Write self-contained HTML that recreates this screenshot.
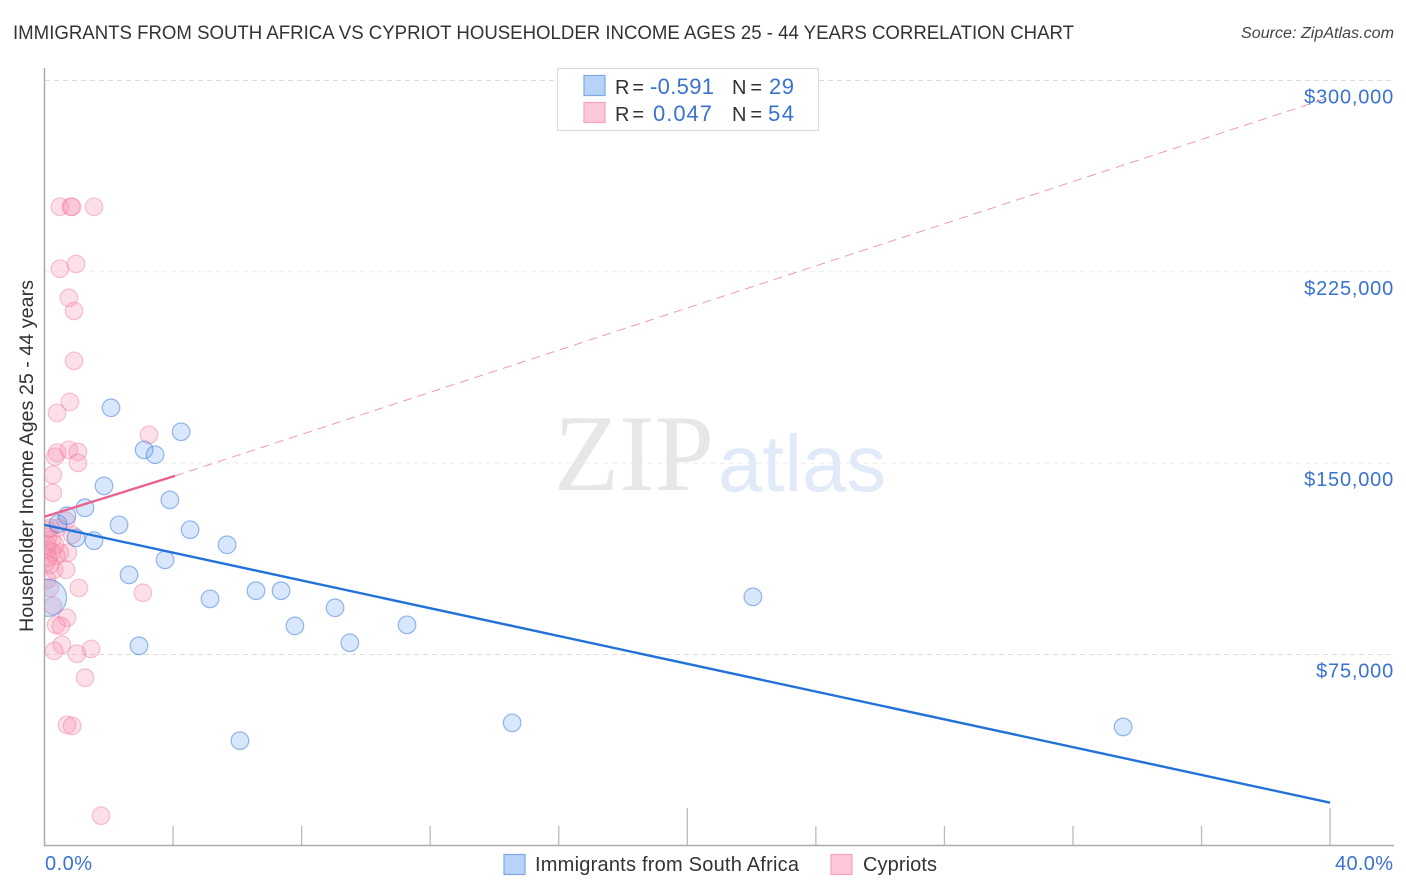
<!DOCTYPE html>
<html lang="en">
<head>
<meta charset="utf-8">
<title>Immigrants from South Africa vs Cypriot Householder Income Correlation Chart</title>
<style>
html,body{margin:0;padding:0;background:#fff;width:1406px;height:892px;overflow:hidden}
svg{display:block;font-family:"Liberation Sans",sans-serif}
</style>
</head>
<body>
<svg id="chart" width="1406" height="892" viewBox="0 0 1406 892" xmlns="http://www.w3.org/2000/svg">
  <defs><clipPath id="plot-clip"><rect x="45" y="60" width="1349" height="786"/></clipPath></defs>
  <text x="13" y="39" font-size="19" fill="#333" textLength="1061" lengthAdjust="spacingAndGlyphs">IMMIGRANTS FROM SOUTH AFRICA VS CYPRIOT HOUSEHOLDER INCOME AGES 25 - 44 YEARS CORRELATION CHART</text>
  <text x="1241" y="38" font-size="15.5" font-style="italic" fill="#444" textLength="153" lengthAdjust="spacingAndGlyphs">Source: ZipAtlas.com</text>
  <g>
    <text x="554" y="490" font-family="'Liberation Serif',serif" font-size="109" fill="#e7e7e7" textLength="160" lengthAdjust="spacingAndGlyphs">ZIP</text>
    <text x="718" y="491" font-size="80" fill="#e0eaf8" textLength="168" lengthAdjust="spacingAndGlyphs">atlas</text>
  </g>
  <g id="grid"></g>
  <g id="axes"></g>
  <g id="ylabels"></g>
  <g id="xlabels"></g>
  <text transform="translate(33,456) rotate(-90)" font-size="19" fill="#333" text-anchor="middle" textLength="352" lengthAdjust="spacingAndGlyphs">Householder Income Ages 25 - 44 years</text>
  <g id="marks" clip-path="url(#plot-clip)"></g>
  <g id="trends"></g>
  <g>
    <rect x="557.5" y="68.5" width="261" height="62" fill="#fff" stroke="#dcdcdc" stroke-width="1.2"/>
    <rect x="584" y="75.5" width="21" height="20" fill="#b8d3f8" stroke="#7ea8e2" stroke-width="1.2"/>
    <rect x="584" y="102.5" width="21" height="20" fill="#fcc8d8" stroke="#f3a3bc" stroke-width="1.2"/>
    <text x="615" y="94" font-size="20" fill="#333" textLength="29">R =</text>
    <text x="650" y="94" font-size="22" fill="#3a72d0" textLength="64">-0.591</text>
    <text x="732" y="94" font-size="20" fill="#333" textLength="30">N =</text>
    <text x="769" y="94" font-size="22" fill="#3a72d0" textLength="25">29</text>
    <text x="615" y="121" font-size="20" fill="#333" textLength="29">R =</text>
    <text x="653" y="121" font-size="22" fill="#3a72d0" textLength="59">0.047</text>
    <text x="732" y="121" font-size="20" fill="#333" textLength="30">N =</text>
    <text x="768" y="121" font-size="22" fill="#3a72d0" textLength="26">54</text>
  </g>
  <g>
    <rect x="504" y="854.5" width="21" height="20" fill="#b8d3f8" stroke="#7ea8e2" stroke-width="1.2"/>
    <text x="535" y="871" font-size="20" fill="#333" textLength="264">Immigrants from South Africa</text>
    <rect x="831" y="854.5" width="21" height="20" fill="#fcc8d8" stroke="#f3a3bc" stroke-width="1.2"/>
    <text x="863" y="871" font-size="20" fill="#333" textLength="74">Cypriots</text>
  </g>
</svg>
<script>
var yTickValues = [300000, 225000, 150000, 75000];
var yTickLabels = ["$300,000", "$225,000", "$150,000", "$75,000"];
var xTickValues = [4, 8, 12, 16, 20, 24, 28, 32, 36, 40];
var xMajorTicks = [20, 40];
var xEndLabels = ["0.0%", "40.0%"];

var immigrantsX = [2.07, 4.25, 3.10, 3.44, 1.85, 3.90, 1.26, 0.70, 0.42, 2.32, 4.53, 0.98, 1.54, 5.68, 3.75, 2.63, 6.58, 7.36, 5.15, 22.04, 9.04, 7.79, 11.28, 2.94, 9.50, 14.55, 33.56, 6.08, 0.11];
var immigrantsY = [171700, 162300, 155200, 153300, 141100, 135600, 132500, 129400, 126200, 125800, 123900, 120700, 119600, 118000, 112100, 106200, 100000, 100000, 96800, 97600, 93300, 86200, 86600, 78400, 79600, 48200, 46600, 41200, 97200];
var immigrantsWeight = [1, 1, 1, 1, 1, 1, 1, 1, 1, 1, 1, 1, 1, 1, 1, 1, 1, 1, 1, 1, 1, 1, 1, 1, 1, 1, 1, 1, 2.1];

var cypriotsX = [0.48, 0.82, 0.86, 1.54, 0.48, 0.98, 0.76, 0.92, 0.92, 0.79, 0.39, 3.25, 0.39, 0.33, 0.76, 1.04, 1.04, 0.26, 0.26, 0.67, 0.42, 0.08, 0.86, 0.23, 0.11, 0.73, 0.48, 0.23, 0.08, 0.36, 0.05, 0.30, 0.67, 0.08, 0.17, 1.07, 3.06, 0.26, 0.70, 0.36, 0.51, 0.54, 0.30, 1.01, 1.45, 1.26, 0.70, 0.86, 1.76, 0.17, 0.08, 0.33, 0.11, 0.17];
var cypriotsY = [250500, 250500, 250500, 250500, 226200, 228100, 214800, 209700, 190100, 174000, 169700, 161100, 154100, 152500, 155200, 154400, 150100, 145400, 138400, 127400, 124700, 123900, 121900, 120000, 121100, 114900, 114900, 115200, 116000, 113700, 110900, 108200, 108200, 104300, 101100, 101100, 99200, 94100, 89400, 86600, 86200, 78800, 76400, 75300, 77200, 65900, 47400, 47000, 11800, 124700, 118000, 118000, 112900, 110100];

var immigrantsTrendX = [0, 40];
var immigrantsTrendY = [125800, 16900];
var cypriotsTrendX = [0, 4.06];
var cypriotsTrendY = [129000, 145000];
var cypriotsProjectionX = [4.06, 40];
var cypriotsProjectionY = [145000, 293400];

var NS = "http://www.w3.org/2000/svg";
function sx(v) { return 44.5 + v * 32.14; }
function sy(v) { return 845.8 - v * (191.33 / 75000); }
function make(tag, parent, attrs) {
  var el = document.createElementNS(NS, tag);
  for (var k in attrs) el.setAttribute(k, attrs[k]);
  parent.appendChild(el);
  return el;
}

var gridG = document.getElementById("grid");
var axesG = document.getElementById("axes");
var yLabG = document.getElementById("ylabels");
var xLabG = document.getElementById("xlabels");
var marksG = document.getElementById("marks");
var trendsG = document.getElementById("trends");

yTickValues.forEach(function (v, i) {
  var line = make("line", gridG, {x1: 45, x2: 1394, y1: sy(v), y2: sy(v), stroke: i % 3 === 0 ? "#dcdcdc" : "#ececec", "stroke-width": 1, "stroke-dasharray": "5 4"});
  
  
  var t = make("text", yLabG, {x: 1394, y: sy(v) + 23, "font-size": 20, fill: "#3a72d0", "text-anchor": "end", "letter-spacing": "0.8"});
  t.textContent = yTickLabels[i];
  
  
});

var yAxis = make("line", axesG, {x1: 44.5, x2: 44.5, y1: 68, y2: 846, stroke: "#aaa", "stroke-width": 1.5});


var xAxis = make("line", axesG, {x1: 44, x2: 1394, y1: 845.5, y2: 845.5, stroke: "#aaa", "stroke-width": 1.5});



xTickValues.forEach(function (v) {
  var major = xMajorTicks.indexOf(v) >= 0;
  var tick = make("line", axesG, {x1: sx(v), x2: sx(v), y1: major ? 808 : 826, y2: 845, stroke: "#bbb", "stroke-width": 1.3});
  
  
});

var x0 = make("text", xLabG, {x: 45, y: 870, "font-size": 20, fill: "#3a72d0", textLength: 47});
x0.textContent = xEndLabels[0];


var x1 = make("text", xLabG, {x: 1335, y: 870, "font-size": 20, fill: "#3a72d0", textLength: 58});
x1.textContent = xEndLabels[1];



cypriotsX.forEach(function (v, i) {
  var c = make("circle", marksG, {cx: sx(v), cy: sy(cypriotsY[i]), r: 8.8, fill: "rgba(250,150,180,0.3)", stroke: "rgba(236,120,155,0.42)", "stroke-width": 1.2});
  
  
});
immigrantsX.forEach(function (v, i) {
  var c = make("circle", marksG, {cx: sx(v), cy: sy(immigrantsY[i]), r: 8.8 * immigrantsWeight[i], fill: "rgba(110,165,240,0.27)", stroke: "rgba(60,120,215,0.52)", "stroke-width": 1.2});
  
  
});

var proj = make("line", trendsG, {x1: sx(cypriotsProjectionX[0]), y1: sy(cypriotsProjectionY[0]), x2: sx(cypriotsProjectionX[1]), y2: sy(cypriotsProjectionY[1]), stroke: "#eb9ab5", "stroke-width": 1, "stroke-dasharray": "9 6"});


var pinkLine = make("line", trendsG, {x1: sx(cypriotsTrendX[0]), y1: sy(cypriotsTrendY[0]), x2: sx(cypriotsTrendX[1]), y2: sy(cypriotsTrendY[1]), stroke: "#e9628f", "stroke-width": 2.4});


var blueLine = make("line", trendsG, {x1: sx(immigrantsTrendX[0]), y1: sy(immigrantsTrendY[0]), x2: sx(immigrantsTrendX[1]), y2: sy(immigrantsTrendY[1]), stroke: "#2272d8", "stroke-width": 2.4});


</script>
</body>
</html>
